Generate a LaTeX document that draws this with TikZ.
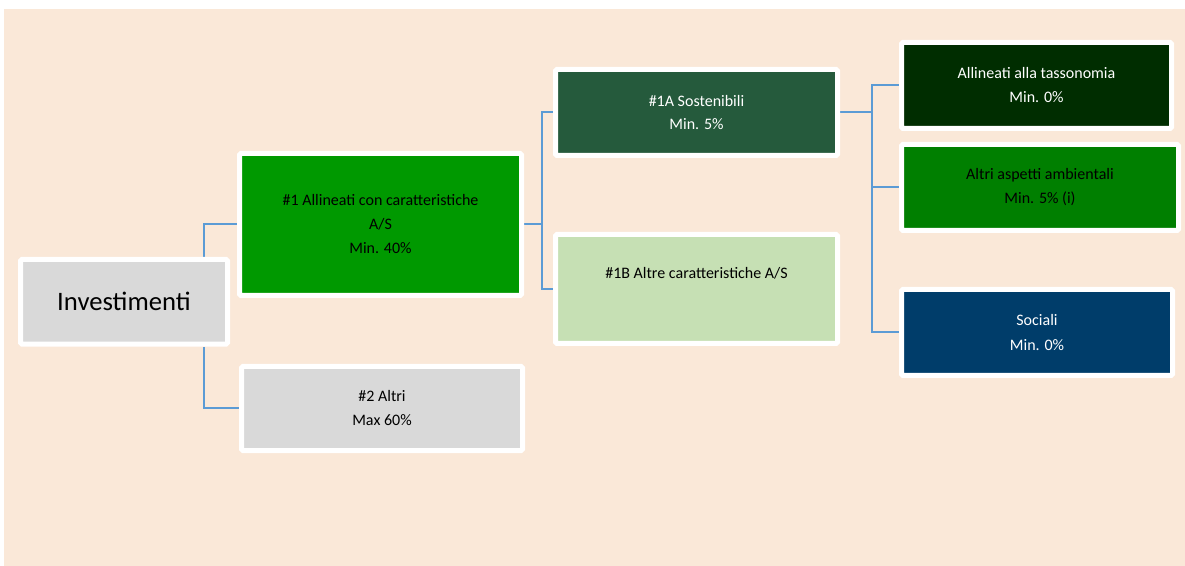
\documentclass[tikz,border=0pt]{standalone}
\usepackage{fontspec}
\setmainfont{Carlito}
\pgfdeclarelayer{bg}
\pgfdeclarelayer{lines}
\pgfsetlayers{bg,lines,main}
\definecolor{bgpeach}{HTML}{FAE8D8}
\definecolor{greyfill}{HTML}{D9D9D9}
\definecolor{brightgreen}{HTML}{009900}
\definecolor{sostgreen}{HTML}{255A3C}
\definecolor{lightgreen}{HTML}{C6E0B4}
\definecolor{darkgreen}{HTML}{002D00}
\definecolor{midgreen}{HTML}{007F00}
\definecolor{navy}{HTML}{003D6A}
\definecolor{connblue}{HTML}{5B9BD5}
\tikzset{
  box/.style={draw=white, line width=3.75pt, rounded corners=1pt, inner sep=0pt,
    align=center, font=\fontsize{12}{18}\selectfont},
  conn/.style={draw=connblue, line width=1.5pt},
}
\begin{document}
\begin{tikzpicture}[x=0.75pt,y=-0.75pt]
\useasboundingbox (0,0) rectangle (1185,566);
\begin{pgfonlayer}{bg}
\fill[bgpeach] (4,9) rectangle (1185,566);
\end{pgfonlayer}
% nodes
\node[box, fill=greyfill, minimum width=155.25pt, minimum height=63.4pt, font=\fontsize{20}{24}\selectfont] (inv) at (124,301.75) {Investimenti};
\node[box, fill=brightgreen, minimum width=211.5pt, minimum height=106.5pt] (a1) at (380.5,224.5) {\#1 Allineati con caratteristiche\\A/S\\Min. 40\%};
\node[box, fill=greyfill, minimum width=210.75pt, minimum height=63pt] (a2) at (382,408.5) {\#2 Altri\\Max 60\%};
\node[box, fill=sostgreen, text=white, minimum width=211.5pt, minimum height=64.5pt, font=\fontsize{12}{17.3}\selectfont] (b1) at (696.5,112.5) {\#1A Sostenibili\\Min. 5\%};
\node[box, fill=lightgreen, minimum width=211.5pt, minimum height=81.75pt] (b2) at (696.5,289) {\#1B Altre caratteristiche A/S\\\strut};
\node[box, fill=darkgreen, text=white, minimum width=202.5pt, minimum height=64.5pt] (c1) at (1036.5,85.5) {Allineati alla tassonomia\\Min. 0\%};
\node[box, fill=midgreen, minimum width=207.75pt, minimum height=64.5pt] (c2) at (1040,187.5) {Altri aspetti ambientali\\Min. 5\% (i)};
\node[box, fill=navy, text=white, minimum width=203.25pt, minimum height=64.5pt, font=\fontsize{12}{19}\selectfont] (c3) at (1037,332.5) {Sociali\\Min. 0\%};
% connectors
\begin{pgfonlayer}{lines}
\draw[conn] ([xshift=60pt]inv.north) |- (a1.west);
\draw[conn] ([xshift=60pt]inv.south) |- (a2.west);
\draw[conn] (a1.east) -- ++(17.5,0) coordinate (j1) |- (b1.west);
\draw[conn] (j1) |- (b2.west);
\draw[conn] (b1.east) -- ++(31.5,0) coordinate (j2) |- (c1.west);
\draw[conn] (j2) |- (c2.west);
\draw[conn] (j2) |- (c3.west);
\end{pgfonlayer}
\end{tikzpicture}
\end{document}
